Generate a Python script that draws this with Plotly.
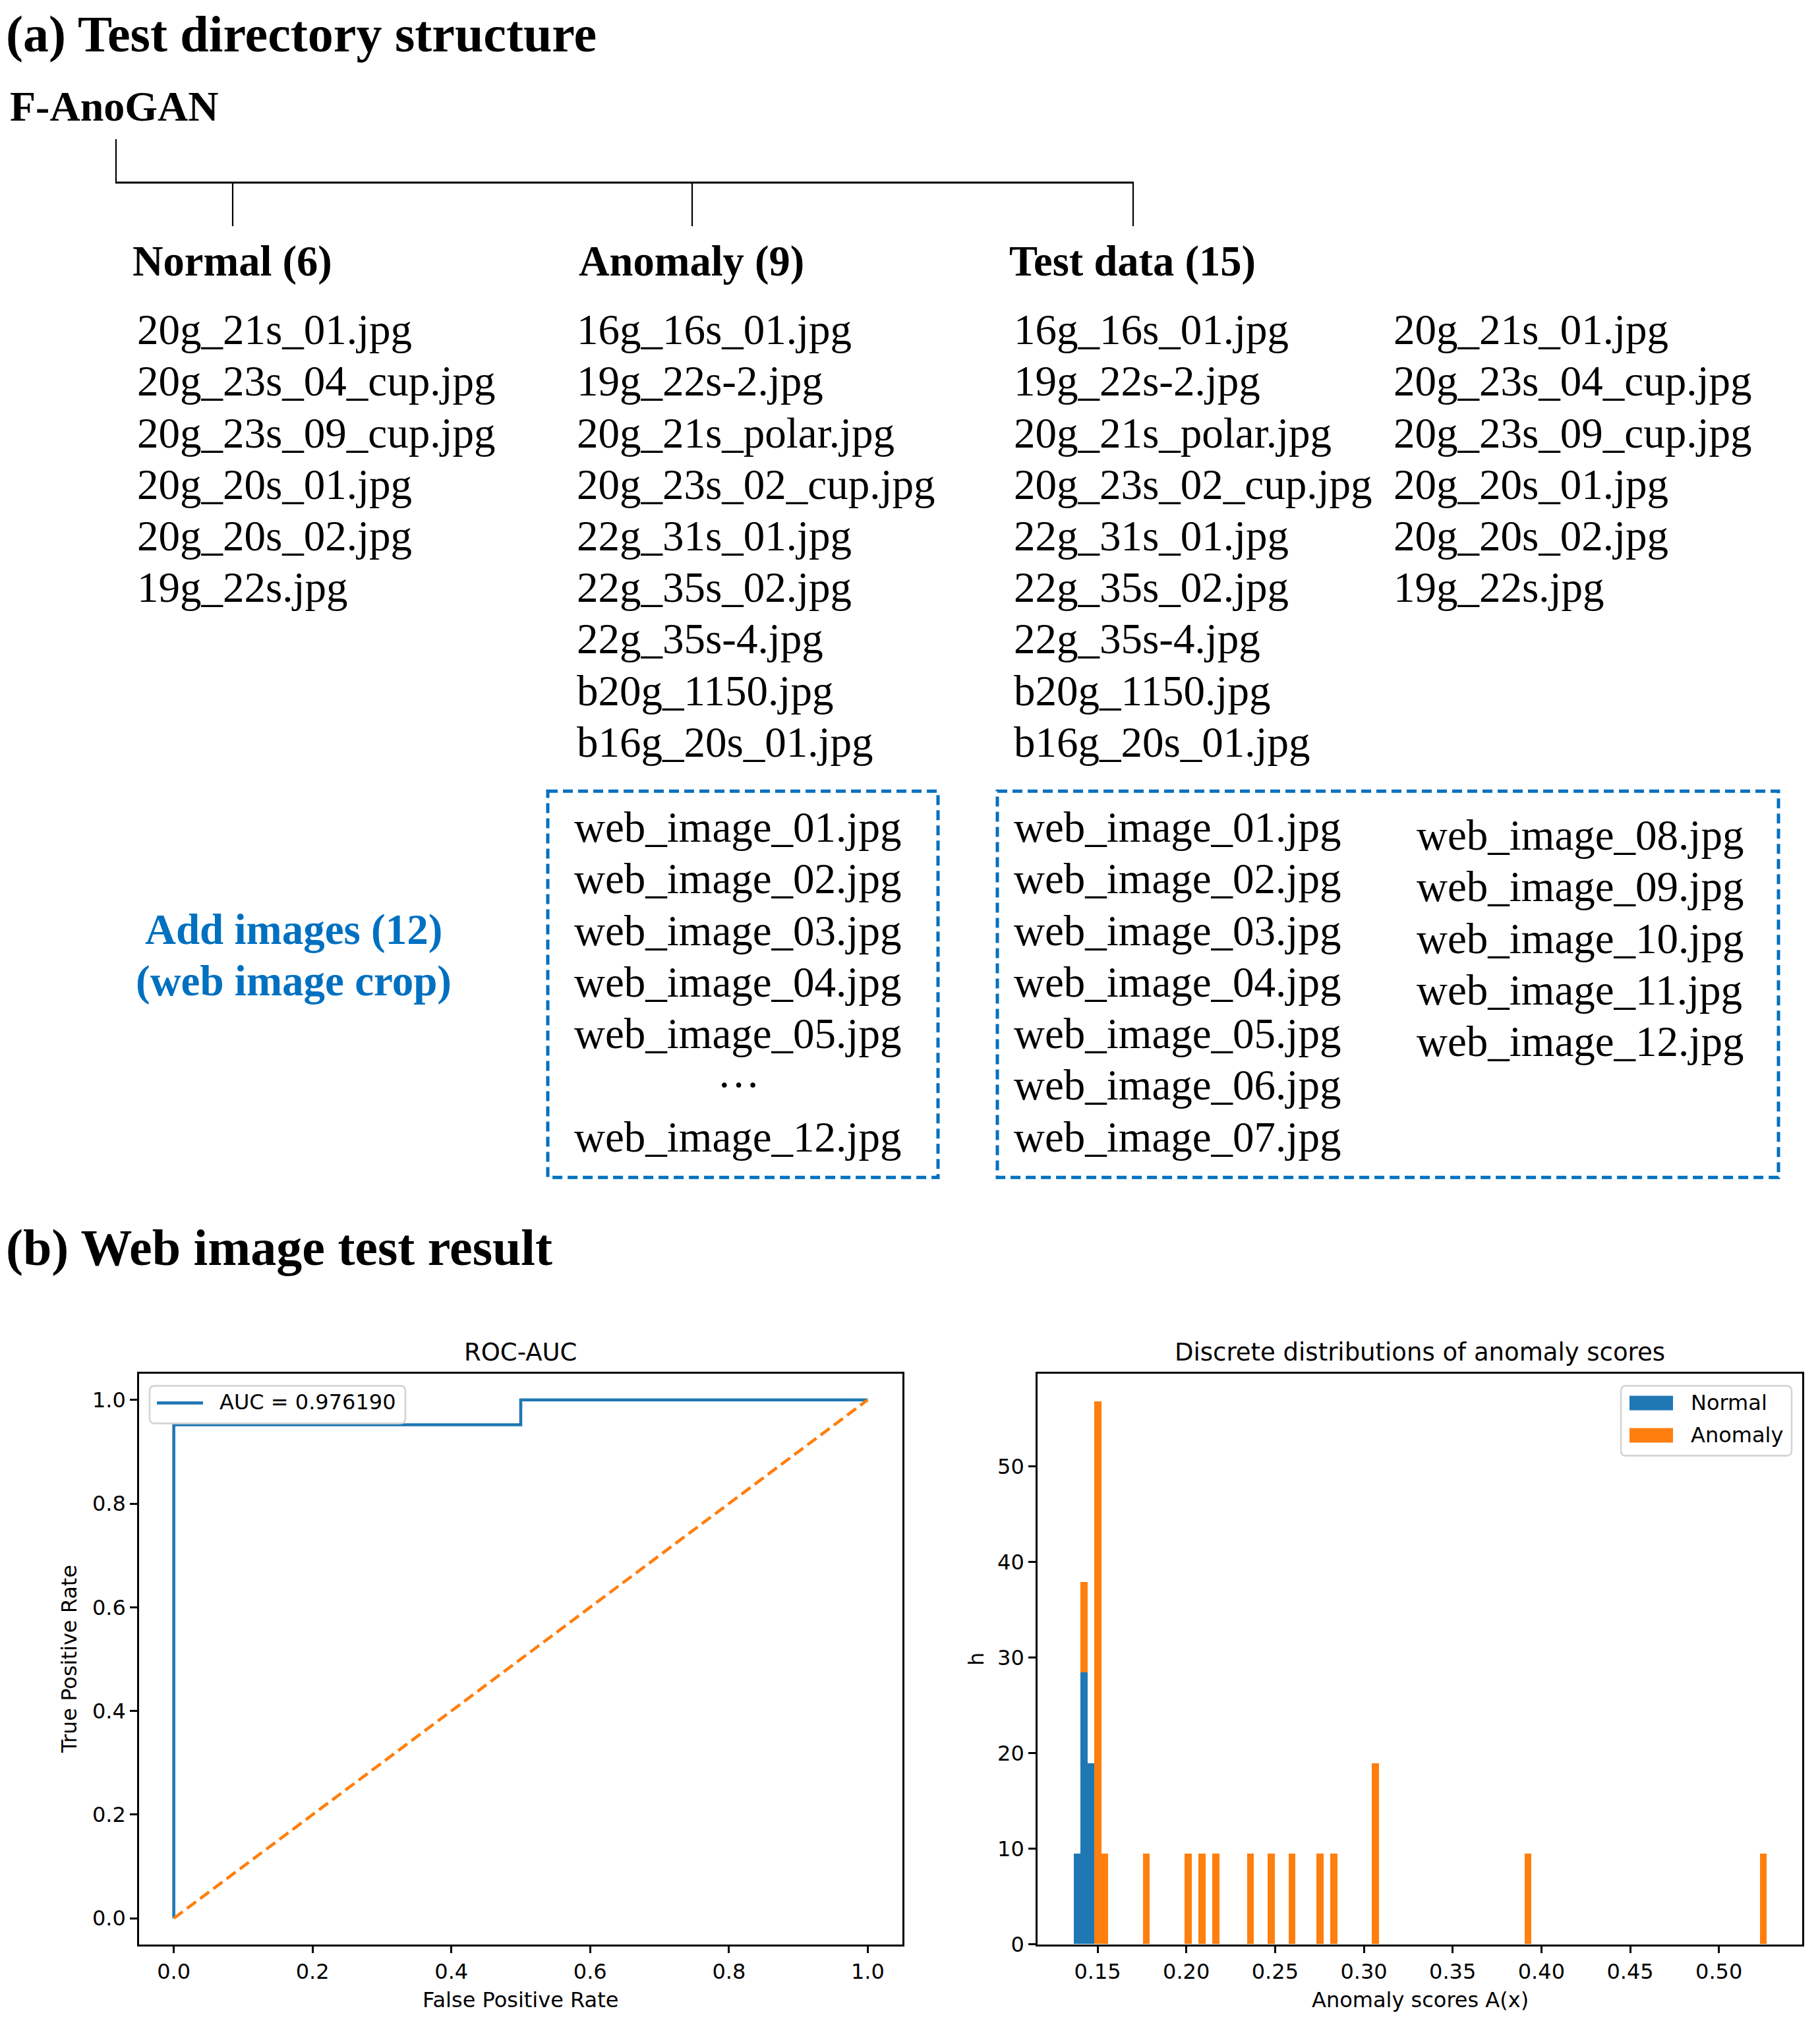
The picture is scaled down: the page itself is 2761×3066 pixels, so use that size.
import plotly.graph_objects as go

W, H = 2761, 3066
M = 8  # default body margin of the html page
K = 1.0064  # the captured page comes out slightly squeezed vertically

# ---- panel (a) text ----
normal_files = ["20g_21s_01.jpg", "20g_23s_04_cup.jpg", "20g_23s_09_cup.jpg",
                "20g_20s_01.jpg", "20g_20s_02.jpg", "19g_22s.jpg"]
anomaly_files = ["16g_16s_01.jpg", "19g_22s-2.jpg", "20g_21s_polar.jpg",
                 "20g_23s_02_cup.jpg", "22g_31s_01.jpg", "22g_35s_02.jpg",
                 "22g_35s-4.jpg", "b20g_1150.jpg", "b16g_20s_01.jpg"]
added_anomaly = ["web_image_01.jpg", "web_image_02.jpg", "web_image_03.jpg",
                 "web_image_04.jpg", "web_image_05.jpg", "\u00b7\u00b7\u00b7",
                 "web_image_12.jpg"]
test_web_left = ["web_image_01.jpg", "web_image_02.jpg", "web_image_03.jpg",
                 "web_image_04.jpg", "web_image_05.jpg", "web_image_06.jpg",
                 "web_image_07.jpg"]
test_web_right = ["web_image_08.jpg", "web_image_09.jpg", "web_image_10.jpg",
                  "web_image_11.jpg", "web_image_12.jpg"]

# ---- panel (b) data ----
fpr = [0.0, 0.0, 0.5, 0.5, 1.0]
tpr = [0.0, 0.952, 0.952, 1.0, 1.0]
auc_label = "AUC = 0.976190"

normal_bins = [0.1384, 0.1423, 0.1462]
normal_counts = [1, 3, 2]
anomaly_bins = [0.1423, 0.1502, 0.1541, 0.1775, 0.2010, 0.2088, 0.2166, 0.2362,
                0.2479, 0.2596, 0.2753, 0.2831, 0.3065, 0.3925, 0.5250]
anomaly_counts = [1, 6, 1, 1, 1, 1, 1, 1, 1, 1, 1, 1, 2, 1, 1]
bin_width = 0.00391
n_total = sum(normal_counts) + sum(anomaly_counts)
normal_h = [c / (n_total * bin_width) for c in normal_counts]
anomaly_h = [c / (n_total * bin_width) for c in anomaly_counts]

BLUE, ORANGE = "#1f77b4", "#ff7f0e"
SERIF = "Liberation Serif"
SANS = "DejaVu Sans"
TXT_BLUE = "#0070C0"

FW, FH = W - 2 * M - 16, 3068


def px(x):
    return (x - M) / FW


def py(y):
    return 1 - (y * K - M) / FH


fig = go.Figure()

fig.add_trace(go.Scatter(x=fpr, y=tpr, mode="lines", name=auc_label, showlegend=False,
                         line=dict(color=BLUE, width=4.6), xaxis="x", yaxis="y"))
fig.add_trace(go.Scatter(x=[0, 1], y=[0, 1], mode="lines", showlegend=False,
                         line=dict(color=ORANGE, width=4.6, dash="17px,8px"),
                         xaxis="x", yaxis="y"))
fig.add_trace(go.Bar(x=normal_bins, y=normal_h, width=bin_width, name="Normal",
                     showlegend=False, marker=dict(color=BLUE, line=dict(width=0)),
                     xaxis="x2", yaxis="y2"))
fig.add_trace(go.Bar(x=anomaly_bins, y=anomaly_h, width=bin_width, name="Anomaly",
                     showlegend=False, marker=dict(color=ORANGE, line=dict(width=0)),
                     xaxis="x2", yaxis="y2"))

ann = []


def txt(x, y, s, size=65, bold=False, color="black", anchor="left", family=SERIF,
        angle=0):
    ann.append(dict(x=px(x), y=py(y), xref="paper", yref="paper", text=s,
                    showarrow=False, xanchor=anchor, yanchor="middle", textangle=angle,
                    borderpad=0, borderwidth=0,
                    font=dict(family=family, size=size, color=color,
                              weight="bold" if bold else "normal")))


txt(9, 51, "(a) Test directory structure", 78, True)
txt(15, 161, "F-AnoGAN", 64, True)
txt(201, 396, "Normal (6)", 64.5, True)
txt(878, 396, "Anomaly (9)", 64.5, True)
txt(1531, 396, "Test data (15)", 64.5, True)

row0, step = 500, 78.2
for i, f in enumerate(normal_files):
    txt(208, row0 + i * step, f)
    txt(2114, row0 + i * step, f)
for i, f in enumerate(anomaly_files):
    txt(875, row0 + i * step, f)
    txt(1538, row0 + i * step, f)

box0 = 1255
for i, f in enumerate(added_anomaly):
    if f.startswith("\u00b7"):
        txt(1120, 1646, f, anchor="center")
    else:
        txt(871, box0 + i * step, f)
for i, f in enumerate(test_web_left):
    txt(1538, box0 + i * step, f)
for i, f in enumerate(test_web_right):
    txt(2149, box0 + 12 + i * step, f)

txt(446, 1410, "Add images (12)", 65, True, TXT_BLUE, "center")
txt(446, 1488, "(web image crop)", 65, True, TXT_BLUE, "center")

txt(9, 1892, "(b) Web image test result", 78, True)

# plot boxes (pixel positions in the page)
roc_x, roc_y = (211, 1369), (2084, 2949)
hist_x = (1574, 2734)

txt(sum(roc_x) / 2, 2051, "ROC-AUC", 37, family=SANS, anchor="center")
txt(sum(hist_x) / 2, 2051, "Discrete distributions of anomaly scores", 37,
    family=SANS, anchor="center")
txt(sum(roc_x) / 2, 3033, "False Positive Rate", 32, family=SANS, anchor="center")
txt(sum(hist_x) / 2, 3033, "Anomaly scores A(x)", 32, family=SANS, anchor="center")
txt(105, sum(roc_y) / 2, "True Positive Rate", 32, family=SANS, anchor="center", angle=-90)
txt(1481, sum(roc_y) / 2, "h", 32, family=SANS, anchor="center", angle=-90)

shapes = []


def line(x0, y0, x1, y1, w=2.2, color="black"):
    shapes.append(dict(type="line", xref="paper", yref="paper",
                       x0=px(x0), y0=py(y0), x1=px(x1), y1=py(y1),
                       line=dict(color=color, width=w)))


def rbox(x0, y0, x1, y1, r=8):
    p = (f"M {px(x0 + r)} {py(y0)} L {px(x1 - r)} {py(y0)} Q {px(x1)} {py(y0)} {px(x1)} {py(y0 + r)} "
         f"L {px(x1)} {py(y1 - r)} Q {px(x1)} {py(y1)} {px(x1 - r)} {py(y1)} "
         f"L {px(x0 + r)} {py(y1)} Q {px(x0)} {py(y1)} {px(x0)} {py(y1 - r)} "
         f"L {px(x0)} {py(y0 + r)} Q {px(x0)} {py(y0)} {px(x0 + r)} {py(y0)} Z")
    shapes.append(dict(type="path", xref="paper", yref="paper", path=p,
                       fillcolor="rgba(255,255,255,0.8)",
                       line=dict(color="#d4d4d4", width=2.6)))


def patch(x0, y0, x1, y1, color):
    shapes.append(dict(type="rect", xref="paper", yref="paper",
                       x0=px(x0), y0=py(y0), x1=px(x1), y1=py(y1),
                       fillcolor=color, line=dict(width=0)))


# directory tree
line(176, 211, 176, 278)
line(175, 277, 1720, 277, 3)
for x in [353, 1050, 1719]:
    line(x, 277, x, 343)

for x0, x1 in [(831, 1423), (1513, 2698)]:
    shapes.append(dict(type="rect", xref="paper", yref="paper",
                       x0=px(x0), y0=py(1200), x1=px(x1), y1=py(1786),
                       line=dict(color=TXT_BLUE, width=5, dash="15px,8px")))

# legends
rbox(227, 2102, 615, 2159)
line(238, 2128, 308, 2128, 4.6, BLUE)
txt(333, 2127, auc_label, 32, family=SANS)

rbox(2459, 2102, 2718, 2208)
patch(2472, 2117, 2538, 2139, BLUE)
patch(2472, 2166, 2538, 2188, ORANGE)
txt(2565, 2128, "Normal", 32, family=SANS)
txt(2565, 2177, "Anomaly", 32, family=SANS)

axis_common = dict(showline=True, mirror=True, linecolor="black", linewidth=2.6,
                   ticks="outside", ticklen=11, tickwidth=2.6, tickcolor="black",
                   showgrid=False, zeroline=False,
                   tickfont=dict(family=SANS, size=32, color="black"))

fig.update_layout(
    width=FW, height=FH, margin=dict(l=0, r=0, t=0, b=0),
    paper_bgcolor="white", plot_bgcolor="white",
    barmode="stack", bargap=0, showlegend=False,
    xaxis=dict(domain=[px(roc_x[0]), px(roc_x[1])], range=[-0.05, 1.05], anchor="y",
               tickvals=[0, 0.2, 0.4, 0.6, 0.8, 1.0], tickformat=".1f", **axis_common),
    yaxis=dict(domain=[py(roc_y[1]), py(roc_y[0])], range=[-0.05, 1.05], anchor="x",
               tickvals=[0, 0.2, 0.4, 0.6, 0.8, 1.0], tickformat=".1f", **axis_common),
    xaxis2=dict(domain=[px(hist_x[0]), px(hist_x[1])], range=[0.1162, 0.5469], anchor="y2",
                tickvals=[0.15, 0.2, 0.25, 0.3, 0.35, 0.4, 0.45, 0.5], tickformat=".2f",
                **axis_common),
    yaxis2=dict(domain=[py(roc_y[1]), py(roc_y[0])], range=[0, 59.7], anchor="x2",
                tickvals=[0, 10, 20, 30, 40, 50], **axis_common),
)
fig.update_layout(annotations=ann, shapes=shapes)

fig.write_html("out.html")
